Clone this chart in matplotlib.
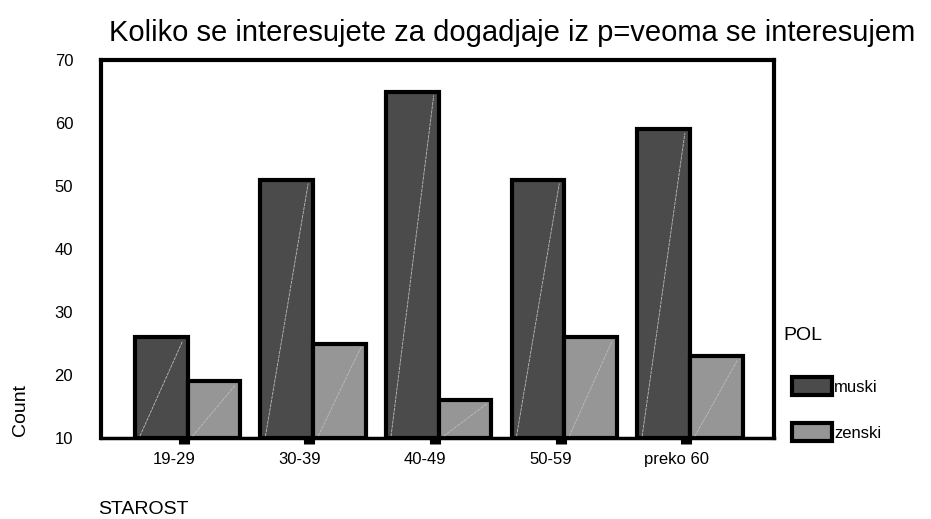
import numpy as np
import matplotlib.pyplot as plt
import matplotlib.transforms as mtransforms
from matplotlib.patches import Rectangle

categories = ["19-29", "30-39", "40-49", "50-59", "preko 60"]
muski = [26, 51, 65, 51, 59]
zenski = [19, 25, 16, 26, 23]
series_names = ["muski", "zenski"]
colors = ["#4b4b4b", "#969696"]

plt.rcParams['font.family'] = ['Liberation Sans', 'DejaVu Sans']

fig = plt.figure(figsize=(9.31, 5.19), dpi=100)
ax = fig.add_axes([101/931, 1 - 438/519, 673/931, 378/519])

x = np.arange(len(categories))
w = 0.42
for vals, off, col in [(muski, -w/2, colors[0]), (zenski, w/2, colors[1])]:
    ax.bar(x + off, np.array(vals) - 10, w, bottom=10, color=col,
           edgecolor='black', linewidth=3, zorder=2)
    # faint diagonal inside each bar
    for xi, v in zip(x + off, vals):
        ax.plot([xi - w/2 + 0.04, xi + w/2 - 0.04], [10.3, v - 0.6],
                color='#bdbdbd', lw=0.6, ls=(0, (4, 1)), zorder=3)

ax.set_xlim(-0.69, 4.67)
ax.set_ylim(10, 70)
ax.set_yticks(range(10, 71, 10))
ax.set_xticks(x - 0.03)
ax.set_xticklabels(categories, fontsize=12)
ax.tick_params(axis='y', length=0, labelsize=12, pad=20)
ax.tick_params(axis='x', length=4, width=8, direction='out', pad=6)
shift = mtransforms.ScaledTranslation(-10/100, 0, fig.dpi_scale_trans)
for lbl in ax.get_xticklabels():
    lbl.set_transform(lbl.get_transform() + shift)
for s in ['left', 'top', 'right']:
    ax.spines[s].set_linewidth(3)
ax.spines['bottom'].set_linewidth(2.5)

fig.text(512/931, 1 - 33/519, "Koliko se interesujete za dogadjaje iz p=veoma se interesujem",
         fontsize=21, ha='center', va='center')
fig.text(20/931, 1 - 410/519, "Count", rotation=90, fontsize=14, ha='center', va='center')
fig.text(98/931, 1 - 510/519, "STAROST", fontsize=14, ha='left', va='center')

# legend
fig.text(783/931, 1 - 336/519, "POL", fontsize=14, ha='left', va='center')
for i, (name, col) in enumerate(zip(series_names, colors)):
    yc = 386 + i * 46
    fig.patches.append(Rectangle((792/931, 1 - (yc + 9)/519), 40/931, 18/519,
                                 transform=fig.transFigure, facecolor=col,
                                 edgecolor='black', linewidth=3))
    fig.text(834/931, 1 - (yc + 2)/519, name, fontsize=12, ha='left', va='center')

plt.savefig('out.png', dpi=100)
